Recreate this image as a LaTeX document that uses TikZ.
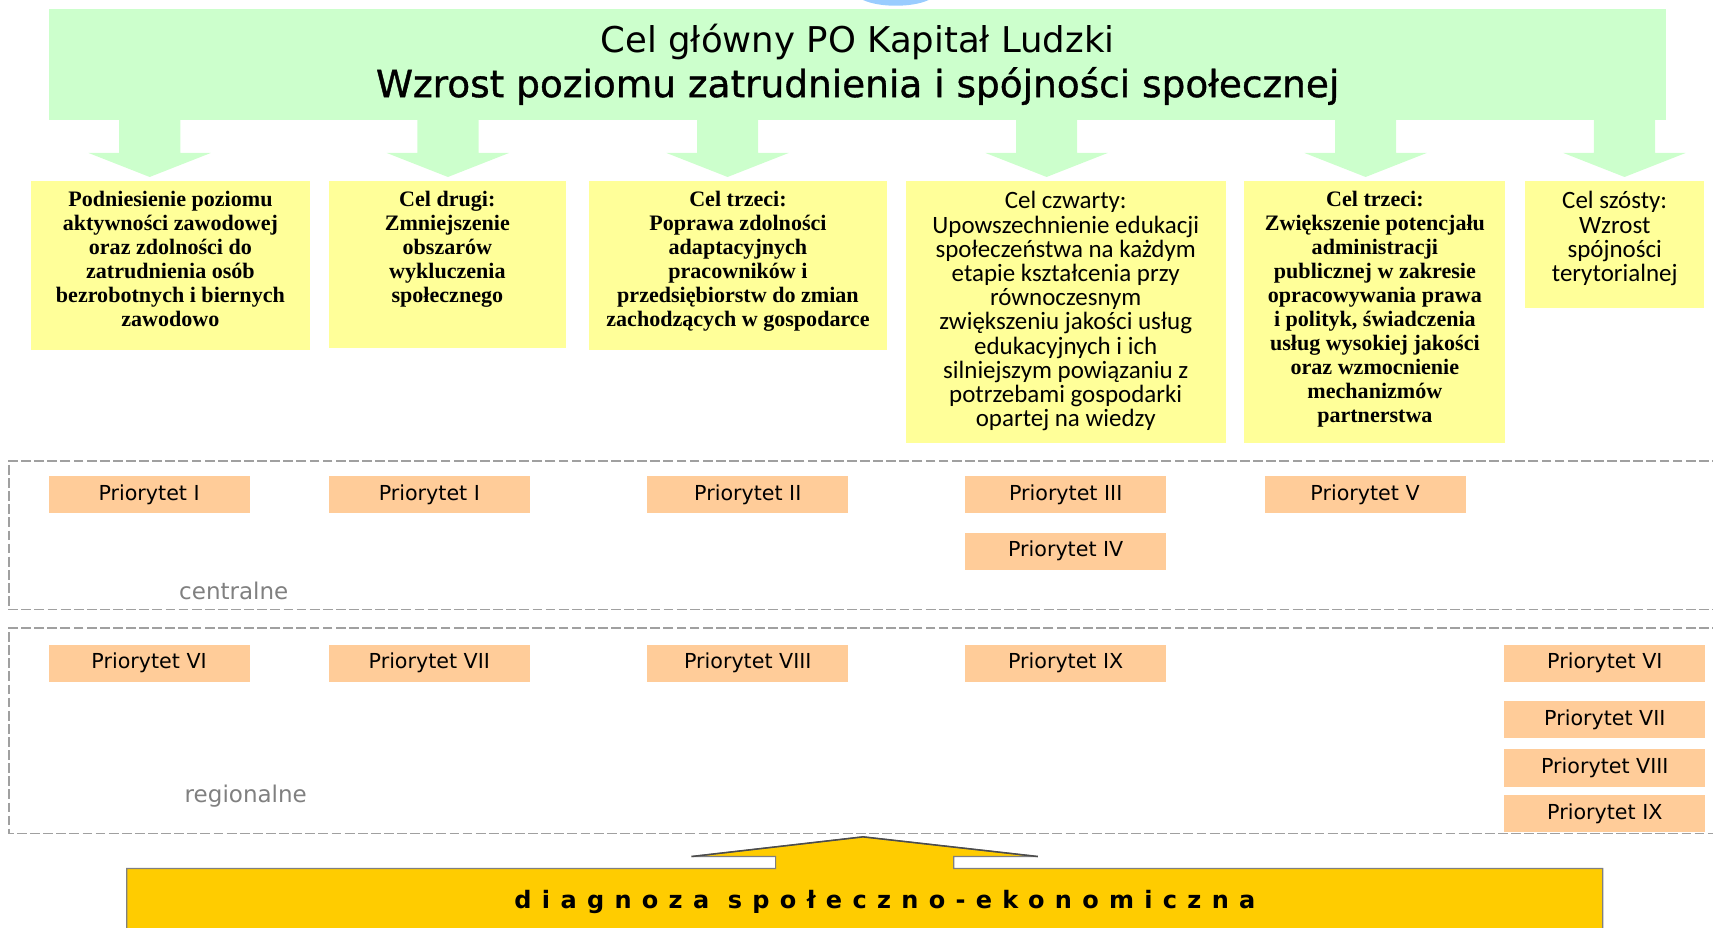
\documentclass[tikz,border=0pt]{standalone}
\usepackage{fontspec}
\setmainfont{Liberation Serif}
\newfontfamily\tahomalike{DejaVu Sans}
\newfontfamily\tahomaheavy[FakeBold=1]{DejaVu Sans}
\newfontfamily\calibrilike{Carlito}
\newfontfamily\spacedsans[LetterSpace=43]{DejaVu Sans}
\definecolor{goalgreen}{HTML}{CCFFCC}
\definecolor{celyellow}{HTML}{FFFF99}
\definecolor{priorange}{HTML}{FFCC99}
\definecolor{diagyellow}{HTML}{FFCC00}
\definecolor{framegray}{HTML}{A0A0A0}
\definecolor{arrowblue}{HTML}{99CCFF}
\usetikzlibrary{positioning}
\tikzset{
	downarrow/.pic={
			\fill[goalgreen] (-28,-54) -- (-28,-22) -- (-56,-22) -- (0,0) -- (56,-22) -- (28,-22) -- (28,-54) -- cycle;
		}
}
\tikzset{
	celbox/.style={fill=celyellow, anchor=north, inner sep=0pt}
}
\tikzset{
	serifcel/.style={celbox, font=\bfseries\fontsize{11.5}{12.5}\selectfont}
}
\tikzset{
	sanscel/.style={celbox, font=\calibrilike\fontsize{13}{12.6}\selectfont}
}
\tikzset{
	priobox/.style={fill=priorange, minimum width=3.68cm, minimum height=0.68cm, inner sep=0pt, font=\tahomalike\fontsize{10.75}{12}\selectfont}
}
\tikzset{
	levellabel/.style={font=\tahomalike\fontsize{12}{14}\selectfont\color{gray}}
}
\tikzset{
	framedash/.style={framegray, line width=0.8pt, dash pattern=on 0.18cm off 0.06cm}
}
\newcommand{\celtext}[3]{\parbox[c][#2][t]{#1}{\centering\vspace*{0.2cm}#3}}

\begin{document}
\begin{tikzpicture}[x=0.02cm, y=-0.02cm]

			\useasboundingbox (0,0) rectangle (1568,849);

			\fill[arrowblue] (790,0) .. controls (805,7) and (835,7) .. (850,0) -- cycle;

			\node[fill=goalgreen, minimum width=29.6cm, minimum height=2.04cm, inner sep=0pt, align=center,
				font=\tahomalike\fontsize{18.5}{23.3}\selectfont] (main) at (785,59)
				{Cel główny PO Kapitał Ludzki\\\tahomaheavy\fontsize{19.5}{23.3}\selectfont Wzrost poziomu zatrudnienia i spójności społecznej};

			\begin{scope}
				\coordinate (tA) at (137,162);
				\coordinate (tB) at (410,162);
				\coordinate (tC) at (666,162);
				\coordinate (tD) at (958,162);
				\coordinate (tE) at (1250,162);
				\coordinate (tF) at (1487,162);

				\pic at (tA) {downarrow};
				\pic at (tB) {downarrow};
				\pic at (tC) {downarrow};
				\pic at (tD) {downarrow};
				\pic at (tE) {downarrow};
				\pic at (tF) {downarrow};
			\end{scope}

			\begin{scope}
				\node[serifcel] (celA) at (156,165) {\celtext{5.12cm}{3.1cm}{Podniesienie poziomu\\aktywności zawodowej\\oraz zdolności do\\zatrudnienia osób\\bezrobotnych i biernych\\zawodowo}};
				\node[serifcel] (celB) at (409.5,165) {\celtext{4.34cm}{3.06cm}{Cel drugi:\\Zmniejszenie\\obszarów\\wykluczenia\\społecznego}};
				\node[serifcel] (celC) at (675.5,165) {\celtext{5.46cm}{3.1cm}{Cel trzeci:\\Poprawa zdolności\\adaptacyjnych\\pracowników i\\przedsiębiorstw do zmian\\zachodzących w gospodarce}};
				\node[sanscel] (celD) at (975.5,165) {\celtext{5.86cm}{4.8cm}{Cel czwarty:\\Upowszechnienie edukacji\\społeczeństwa na każdym\\etapie kształcenia przy\\równoczesnym\\zwiększeniu jakości usług\\edukacyjnych i ich\\silniejszym powiązaniu z\\potrzebami gospodarki\\opartej na wiedzy}};
				\node[serifcel] (celE) at (1258.5,165) {\celtext{4.78cm}{4.8cm}{Cel trzeci:\\Zwiększenie potencjału\\administracji\\publicznej w zakresie\\opracowywania prawa\\i polityk, świadczenia\\usług wysokiej jakości\\oraz wzmocnienie\\mechanizmów\\partnerstwa}};
				\node[sanscel] (celF) at (1478,165) {\celtext{3.28cm}{2.34cm}{Cel szósty:\\Wzrost\\spójności\\terytorialnej}};
			\end{scope}

			\draw[framedash] (1600,422) -- (8,422) -- (8,558) -- (1600,558);
			\draw[framedash] (1600,575) -- (8,575) -- (8,763) -- (1600,763);

			\begin{scope}
				\node[priobox] (cA) at (136.5,452.5) {Priorytet I};
				\node[priobox] (cB) at (393,452.5) {Priorytet I};
				\node[priobox] (cC) at (684.5,452.5) {Priorytet II};
				\node[priobox] (cD) at (975.5,452.5) {Priorytet III};
				\node[priobox] (cE) at (1249.5,452.5) {Priorytet V};
				\node[priobox] (cF) at (975.5,504.5) {Priorytet IV};

				\node[levellabel] (lcentral) at (214,541) {centralne};
			\end{scope}

			\begin{scope}
				\node[priobox] (rA) at (136.5,607) {Priorytet VI};
				\node[priobox] (rB) at (393,607) {Priorytet VII};
				\node[priobox] (rC) at (684.5,607) {Priorytet VIII};
				\node[priobox] (rD) at (975.5,607) {Priorytet IX};
				\node[priobox] (rE) at (1469,607) {Priorytet VI};
				\node[priobox] (rF) at (1469,658.5) {Priorytet VII};
				\node[priobox] (rG) at (1469,703) {Priorytet VIII};
				\node[priobox] (rH) at (1469,744.5) {Priorytet IX};

				\node[levellabel] (lregional) at (225,729) {regionalne};
			\end{scope}

			\filldraw[fill=diagyellow, draw=gray, line width=0.6pt] (116,870) -- (116,795) -- (710,795) -- (710,784) -- (633,784) -- (790,766) -- (950,784) -- (873,784) -- (873,795) -- (1467,795) -- (1467,870) -- cycle;
			\draw[black!70, line width=0.8pt] (633,784) -- (790,766) -- (950,784);

			\node[font=\spacedsans\bfseries\fontsize{12.5}{14}\selectfont] (diag) at (810,826) {diagnoza społeczno-ekonomiczna};

		\end{tikzpicture}
\end{document}
